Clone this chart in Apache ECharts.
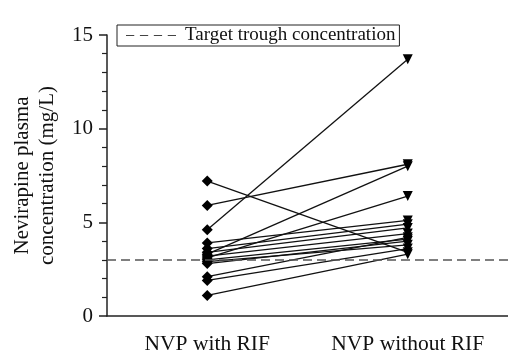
<!DOCTYPE html>
<html><head><meta charset="utf-8">
<script src="https://cdn.jsdelivr.net/npm/echarts@6/dist/echarts.min.js"></script>
<style>html,body{margin:0;padding:0;background:#fff}#c{width:508px;height:351px}</style>
</head><body><div id="c"></div>
<script>
const categories = ['NVP with RIF', 'NVP without RIF'];
const withRIF    = [4.6, 7.2, 5.9, 3.3, 3.1, 3.9, 3.6, 3.4, 3.0, 2.8, 2.9, 2.1, 1.9, 1.1, 3.2];
const withoutRIF = [13.7, 3.4, 8.1, 8.0, 6.4, 5.1, 4.9, 4.7, 4.1, 4.0, 3.8, 4.2, 3.6, 3.3, 4.4];
const targetTrough = 3;
const yTicks = [0, 5, 10, 15];

const font = 'Liberation Serif';
const chart = echarts.init(document.getElementById('c'));
const pairSeries = withRIF.map((v, i) => ({
  type: 'line',
  data: [
    { value: v, symbol: 'diamond', symbolSize: 11 },
    { value: withoutRIF[i], symbol: 'triangle', symbolRotate: 180, symbolSize: 10 }
  ],
  lineStyle: { color: '#111', width: 1.3 },
  itemStyle: { color: '#000' },
  silent: true, animation: false, z: 3
}));
pairSeries.push({
  type: 'line', name: 'Target trough concentration', data: [],
  lineStyle: { color: '#555', type: [8, 5], width: 1.5 },
  itemStyle: { color: '#555' },
  markLine: {
    silent: true, symbol: 'none', label: { show: false },
    lineStyle: { color: '#555', type: [9, 5], width: 1.6 },
    data: [{ yAxis: targetTrough }]
  },
  animation: false, z: 2
});
chart.setOption({
  animation: false,
  grid: { left: 107, right: 0, top: 35, bottom: 35, containLabel: false, outerBoundsMode: 'none' },
  legend: {
    data: ['Target trough concentration'],
    left: 117, top: 25,
    padding: [1, 4, 1, 9],
    borderColor: '#222', borderWidth: 1,
    itemWidth: 50, itemHeight: 2, itemGap: 0,
    icon: 'path://M0,0h8v1h-8z M13.5,0h8v1h-8z M27,0h8v1h-8z M40.5,0h8v1h-8z',
    itemStyle: { color: '#444' },
    textStyle: { fontFamily: font, fontSize: 19, color: '#111', padding: [0, 0, 0, 4] }
  },
  xAxis: {
    type: 'category', data: categories, boundaryGap: true,
    axisLine: { lineStyle: { color: '#222', width: 1.5 } },
    axisTick: { alignWithLabel: true, length: 8, lineStyle: { color: '#222', width: 1.5 } },
    axisLabel: { fontFamily: font, fontSize: 21.5, color: '#111', margin: 17, interval: 0, hideOverlap: false }
  },
  yAxis: {
    type: 'value', min: 0, max: 15, interval: 5,
    name: 'Nevirapine plasma\nconcentration (mg/L)',
    nameLocation: 'middle', nameGap: 47,
    nameTextStyle: { fontFamily: font, fontSize: 21, color: '#111', lineHeight: 25 },
    axisLine: { show: true, lineStyle: { color: '#222', width: 1.5 } },
    axisTick: { show: true, length: 8, lineStyle: { color: '#222', width: 1.5 } },
    minorTick: { show: true, splitNumber: 5, length: 5, lineStyle: { color: '#222', width: 1.2 } },
    splitLine: { show: false },
    axisLabel: { fontFamily: font, fontSize: 21, color: '#111', margin: 14,
      formatter: v => yTicks.includes(v) ? String(v) : '' }
  },
  series: pairSeries
});
</script></body></html>
